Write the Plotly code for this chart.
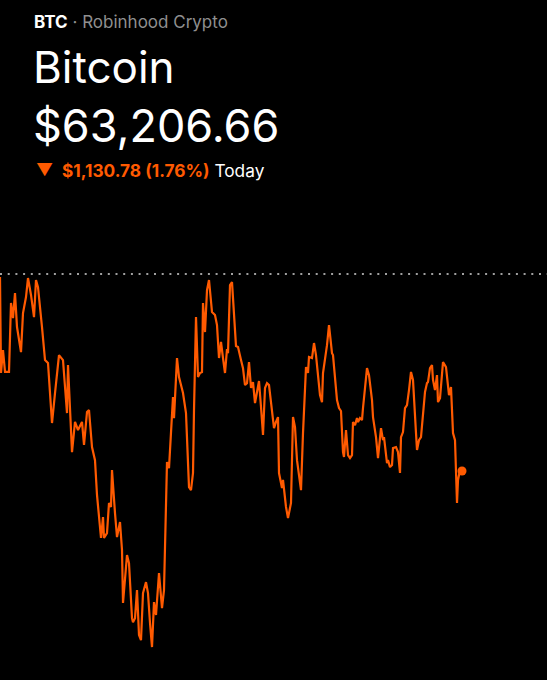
import plotly.graph_objects as go

# Time (minutes since start of the day window) and price readings
minutes = [0, 3, 9, 15, 21, 27, 33, 39, 45, 51, 63, 69, 78, 84, 93, 102, 108, 114, 126, 135,
           144, 156, 165, 177, 189, 201, 204, 210, 216, 225, 234, 246, 252, 261, 267, 276, 285, 291, 303, 309,
           312, 321, 327, 333, 336, 345, 351, 360, 366, 369, 381, 387, 396, 399, 405, 411, 417, 423, 429, 438,
           444, 450, 456, 462, 468, 477, 486, 492, 501, 507, 513, 519, 522, 531, 537, 549, 558, 561, 567, 573,
           579, 582, 588, 594, 600, 606, 609, 615, 621, 627, 636, 645, 651, 657, 663, 669, 675, 681, 684, 690,
           696, 708, 714, 723, 729, 735, 741, 747, 753, 759, 765, 771, 777, 783, 789, 795, 801, 807, 816, 822,
           828, 834, 837, 846, 849, 858, 864, 870, 873, 879, 885, 891, 897, 903, 909, 918, 924, 927, 936, 942,
           948, 957, 960, 966, 969, 978, 981, 987, 996, 999, 1008, 1011, 1017, 1023, 1029, 1032, 1038, 1044, 1050, 1056,
           1059, 1065, 1071, 1074, 1080, 1086, 1089, 1095, 1101, 1107, 1116, 1119, 1128, 1134, 1143, 1149, 1152, 1161, 1164, 1170,
           1176, 1179, 1188, 1194, 1200, 1203, 1209, 1215, 1221, 1227, 1233, 1239, 1242, 1248, 1251, 1257, 1263, 1269, 1275, 1281,
           1284, 1290, 1296, 1299, 1305, 1311, 1314, 1320, 1326, 1329, 1338, 1341, 1347, 1353, 1356, 1359, 1365, 1371, 1374, 1380,
           1386]

prices = [64320, 63769, 63901, 63775, 63775, 63775, 64171, 64084, 64228, 64033, 63889, 64113, 64205, 64314, 64217, 64090, 64303, 64262, 64033, 63843,
          63826, 63482, 63654, 63872, 63843, 63539, 63815, 63539, 63315, 63488, 63442, 63488, 63356, 63545, 63556, 63344, 63269, 63069, 62822, 62942,
          62822, 62850, 63023, 63000, 63212, 62965, 62827, 62914, 62753, 62449, 62724, 62678, 62362, 62339, 62362, 62523, 62265, 62236, 62506, 62569,
          62506, 62334, 62196, 62454, 62380, 62621, 62420, 62523, 63258, 63223, 63424, 63631, 63510, 63855, 63746, 63654, 63539, 63424, 63114, 63097,
          63195, 63556, 64090, 63746, 63769, 63775, 64171, 64004, 64245, 64303, 64119, 64102, 64044, 63855, 63947, 63855, 63769, 63906, 63883, 64274,
          64291, 63924, 63918, 63843, 63797, 63700, 63711, 63832, 63683, 63717, 63596, 63660, 63723, 63574, 63413, 63683, 63711, 63700, 63539, 63453,
          63488, 63516, 63195, 63109, 63155, 63000, 62936, 62994, 63023, 63516, 63459, 63269, 63195, 63097, 63424, 63803, 63769, 63861, 63855, 63941,
          63872, 63711, 63642, 63602, 63769, 63889, 63929, 64044, 63883, 63872, 63688, 63614, 63568, 63551, 63315, 63287, 63442, 63298, 63281, 63298,
          63488, 63470, 63510, 63488, 63510, 63499, 63568, 63671, 63797, 63757, 63614, 63516, 63401, 63281, 63453, 63384, 63401, 63252, 63269, 63229,
          63241, 63338, 63344, 63315, 63195, 63401, 63430, 63568, 63585, 63671, 63775, 63729, 63602, 63424, 63327, 63384, 63401, 63545, 63660, 63711,
          63717, 63797, 63815, 63729, 63671, 63757, 63602, 63625, 63775, 63832, 63803, 63740, 63642, 63688, 63556, 63424, 63384, 63023, 63155, 63212,
          63206.66]

symbol = "BTC"
exchange = "Robinhood Crypto"
name = "Bitcoin"
price_text = "$63,206.66"
change_text = "$1,130.78 (1.76%)"
period_text = "Today"
previous_close = 64337.44

ORANGE = "#FF5A00"
W, H = 547, 680
FONT = "Inter"

fig = go.Figure()
fig.add_trace(go.Scatter(x=minutes, y=prices, mode="lines",
                         line=dict(color=ORANGE, width=2.2), hoverinfo="skip"))
fig.add_trace(go.Scatter(x=[minutes[-1]], y=[prices[-1]], mode="markers",
                         marker=dict(color=ORANGE, size=9), hoverinfo="skip"))

fig.add_shape(type="line", xref="paper", x0=0, x1=1, yref="y",
              y0=previous_close, y1=previous_close,
              line=dict(color="#a0a0a0", width=2, dash="2px,5.7px"))

def px_x(p):
    return p / W

def px_y(p):
    return 1 - p / H

annos = [
    dict(text=f"<b>{symbol}</b><span style='color:#8f8f8f'> · {exchange}</span>",
         x=px_x(32), y=px_y(21.5), font=dict(size=17, color="#ffffff", family=FONT)),
    dict(text=name, x=px_x(31), y=px_y(67), font=dict(size=44, color="#ffffff", family=FONT)),
    dict(text=price_text, x=px_x(31), y=px_y(125), font=dict(size=45, color="#ffffff", family=FONT)),
    dict(text="▼", x=px_x(34), y=px_y(170), font=dict(size=17, color=ORANGE, family=FONT)),
    dict(text=f"<span style='color:{ORANGE}'><b>{change_text}</b></span> {period_text}",
         x=px_x(60), y=px_y(170.5), font=dict(size=17.3, color="#ffffff", family=FONT)),
]
for a in annos:
    fig.add_annotation(xref="paper", yref="paper", xanchor="left", yanchor="middle",
                       showarrow=False, **a)

fig.update_layout(
    width=W, height=H,
    margin=dict(l=0, r=0, t=0, b=0),
    paper_bgcolor="#000000", plot_bgcolor="#000000",
    showlegend=False,
    xaxis=dict(range=[0, 1641], visible=False, fixedrange=True),
    yaxis=dict(range=[62007, 65910], visible=False, fixedrange=True),
)

fig.write_html(
    "out.html",
    config={"displayModeBar": False},
    post_script="document.body.style.margin='0';document.body.style.background='#000';document.body.style.overflow='hidden';",
)
